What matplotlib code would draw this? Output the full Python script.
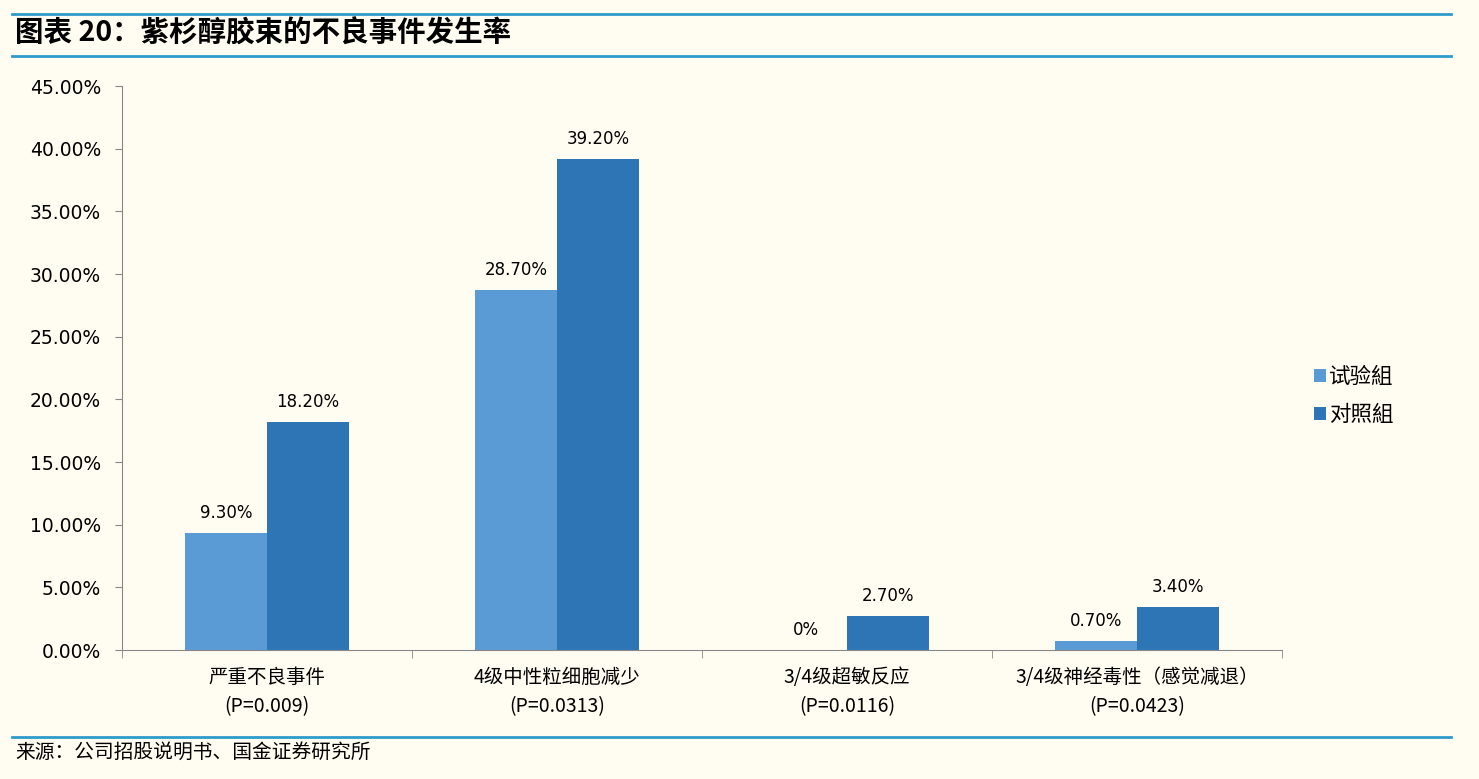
import numpy as np
import matplotlib.pyplot as plt

plt.rcParams['font.family'] = ['Noto Sans CJK SC', 'DejaVu Sans']

categories = ['严重不良事件\n(P=0.009)', '4级中性粒细胞减少\n(P=0.0313)',
              '3/4级超敏反应\n(P=0.0116)', '3/4级神经毒性（感觉减退）\n(P=0.0423)']
test_group = [9.3, 28.7, 0.0, 0.7]
control_group = [18.2, 39.2, 2.7, 3.4]
series_names = ['试验組', '对照組']
yticks = np.arange(0, 46, 5)

W, H = 1479, 779
bg = '#FFFCF2'
line_blue = '#2E9BCB'
c_light = '#5B9BD5'
c_dark = '#2E75B6'

fig = plt.figure(figsize=(W / 100, H / 100), dpi=100, facecolor=bg)

# header / footer rules
for y in (14, 56, 737):
    fig.add_artist(plt.Line2D([12 / W, 1 - 28 / W], [1 - y / H] * 2, color=line_blue, lw=2))
fig.text(15 / W, 1 - 33 / H, '图表 20：紫杉醇胶束的不良事件发生率', fontsize=20.5, fontweight='bold',
         style='italic', va='center', ha='left')
fig.text(15 / W, 1 - 752 / H, '来源：公司招股说明书、国金证券研究所', fontsize=14.2, va='center', ha='left')

ax = fig.add_axes([122 / W, 1 - 650 / H, (1282 - 122) / W, (650 - 86) / H])
ax.set_facecolor(bg)

x = np.arange(len(categories))
bw = 0.282
b1 = ax.bar(x - bw / 2, test_group, bw, color=c_light, label=series_names[0])
b2 = ax.bar(x + bw / 2, control_group, bw, color=c_dark, label=series_names[1])

def fmt(v):
    return '0%' if v == 0 else f'{v:.2f}%'

for bars, vals in ((b1, test_group), (b2, control_group)):
    for b, v in zip(bars, vals):
        ax.annotate(fmt(v), (b.get_x() + b.get_width() / 2, v), xytext=(0, 8),
                    textcoords='offset points', ha='center', va='bottom', fontsize=12,
                    family=['DejaVu Sans'])

ax.set_xlim(-0.5, len(categories) - 0.5)
ax.set_ylim(0, 45)
ax.set_yticks(yticks)
ax.set_yticklabels([f'{v:.2f}%' for v in yticks], fontsize=13.5, family=['DejaVu Sans'])
ax.set_xticks(x)
ax.set_xticklabels(categories, fontsize=14, linespacing=1.55)
ax.set_xticks(np.arange(len(categories) + 1) - 0.5, minor=True)
ax.tick_params(axis='x', which='major', length=0, pad=12)
ax.tick_params(axis='x', which='minor', length=6, color='#888888', direction='out')
ax.tick_params(axis='y', length=5, color='#888888', pad=10)
for s in ('top', 'right'):
    ax.spines[s].set_visible(False)
for s in ('left', 'bottom'):
    ax.spines[s].set_color('#888888')

ax.legend(loc='center left', bbox_to_anchor=(1314 / W, 1 - 396 / H), bbox_transform=fig.transFigure,
          frameon=False, fontsize=15.5, handlelength=0.55, handleheight=0.55, handletextpad=0.15,
          labelspacing=0.72, borderpad=0, borderaxespad=0)

fig.savefig('out.png', dpi=100, facecolor=bg)
